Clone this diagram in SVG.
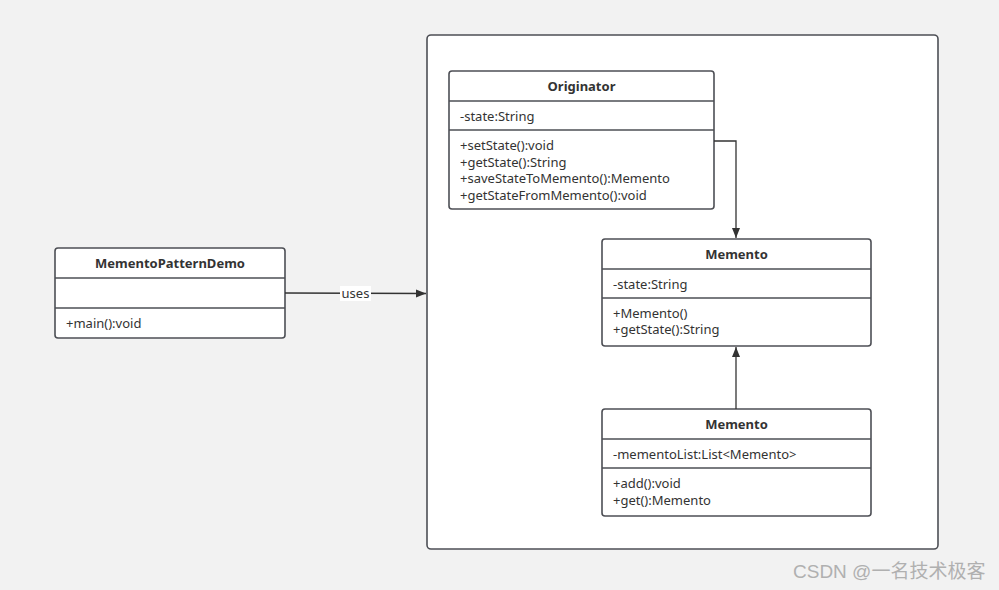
<svg xmlns="http://www.w3.org/2000/svg" width="999" height="590" viewBox="0 0 999 590">
<style>
.box{fill:#fff;stroke:#4d4f55;stroke-width:1.6}
.div{stroke:#4d4f55;stroke-width:1.3}
.t{font-family:"Noto Sans","Open Sans",sans-serif;font-size:13px;fill:#333}
.b{font-weight:bold;text-anchor:middle}
.line{fill:none;stroke:#333;stroke-width:1.3}
.wm{font-family:"Liberation Sans","Noto Sans CJK SC",sans-serif;font-size:19px;fill:#b0b0b0}
</style>
<defs>
<marker id="ah" viewBox="0 0 10 10" refX="10" refY="5" markerWidth="10" markerHeight="10" markerUnits="userSpaceOnUse" orient="auto">
<path d="M0,1 L10,5 L0,9 Z" fill="#333"/>
</marker>
</defs>
<rect width="999" height="590" fill="#f2f2f2"/>
<g id="container">
<rect x="427" y="35" width="511" height="514" rx="4" class="box"/>
</g>
<g id="originator">
<rect x="449" y="71" width="265" height="138" rx="3" class="box"/>
<line x1="449" y1="101" x2="714" y2="101" class="div"/>
<line x1="449" y1="130" x2="714" y2="130" class="div"/>
<text x="581.5" y="90.5" class="t b">Originator</text>
<text x="460" y="120.5" class="t">-state:String</text>
<text x="460" y="150" class="t">+setState():void</text>
<text x="460" y="166.5" class="t">+getState():String</text>
<text x="460" y="183" class="t">+saveStateToMemento():Memento</text>
<text x="460" y="199.5" class="t">+getStateFromMemento():void</text>
</g>
<g id="memento1">
<rect x="602" y="239" width="269" height="107" rx="3" class="box"/>
<line x1="602" y1="269" x2="871" y2="269" class="div"/>
<line x1="602" y1="298" x2="871" y2="298" class="div"/>
<text x="736.5" y="258.5" class="t b">Memento</text>
<text x="613" y="288.5" class="t">-state:String</text>
<text x="613" y="317.5" class="t">+Memento()</text>
<text x="613" y="334" class="t">+getState():String</text>
</g>
<g id="memento2">
<rect x="602" y="409" width="269" height="107" rx="3" class="box"/>
<line x1="602" y1="439" x2="871" y2="439" class="div"/>
<line x1="602" y1="468" x2="871" y2="468" class="div"/>
<text x="736.5" y="428.5" class="t b">Memento</text>
<text x="613" y="458.5" class="t">-mementoList:List&lt;Memento&gt;</text>
<text x="613" y="488" class="t">+add():void</text>
<text x="613" y="504.5" class="t">+get():Memento</text>
</g>
<g id="demo">
<rect x="55" y="248" width="230" height="90" rx="3" class="box"/>
<line x1="55" y1="278" x2="285" y2="278" class="div"/>
<line x1="55" y1="308" x2="285" y2="308" class="div"/>
<text x="170" y="267.5" class="t b">MementoPatternDemo</text>
<text x="66" y="327.5" class="t">+main():void</text>
</g>
<g id="connectors">
<polyline points="714,141 736,141 736,238" class="line" marker-end="url(#ah)"/>
<line x1="736" y1="409" x2="736" y2="347" class="line" marker-end="url(#ah)"/>
<line x1="285" y1="293" x2="426" y2="293.5" class="line" marker-end="url(#ah)"/>
<rect x="340" y="286" width="31" height="15" fill="#fff"/>
<text x="355.5" y="298" class="t" text-anchor="middle">uses</text>
</g>
<text x="793" y="578" class="wm">CSDN @一名技术极客</text>
</svg>
